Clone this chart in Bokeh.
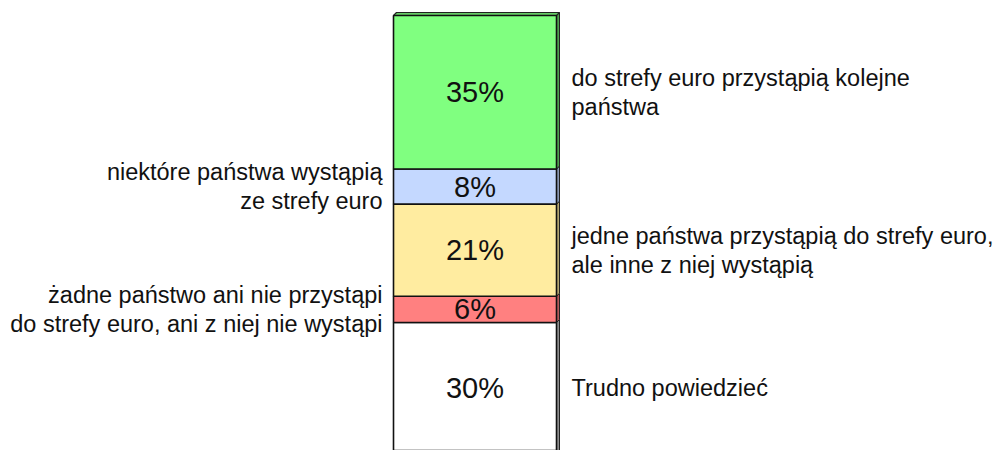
from bokeh.plotting import figure
from bokeh.models import Range1d, ColumnDataSource
from bokeh.core.properties import value
from bokeh.embed import file_html
from bokeh.resources import INLINE

# ---- data (bottom to top) ----
categories = [
    "Trudno powiedzieć",
    "żadne państwo ani nie przystąpi\ndo strefy euro, ani z niej nie wystąpi",
    "jedne państwa przystąpią do strefy euro,\nale inne z niej wystąpią",
    "niektóre państwa wystąpią\nze strefy euro",
    "do strefy euro przystąpią kolejne\npaństwa",
]
values = [30, 6, 21, 8, 35]
pct_labels = ["30%", "6%", "21%", "8%", "35%"]
label_side = ["right", "left", "right", "left", "right"]
colors = ["#FFFFFF", "#FF8080", "#FFECA0", "#C4D8FF", "#80FF80"]
side_colors = ["#8C8C8C", "#B25A5A", "#B3A570", "#8997B3", "#4F9F4F"]

# ---- layout constants ----
PX_X = 163.0    # pixels per bar-width unit
PX_Y = 4.386    # pixels per percent
DX = 3.0 / PX_X
DY = 3.0 / PX_Y

bottoms, tops = [], []
acc = 0
for v in values:
    bottoms.append(acc)
    acc += v
    tops.append(acc)
mids = [(b + t) / 2 for b, t in zip(bottoms, tops)]

p = figure(width=994, height=450, output_backend="svg", toolbar_location=None,
           x_axis_type=None, y_axis_type=None, min_border=0,
           x_range=Range1d(-2.911, 3.187), y_range=Range1d(0.82, 103.42))
p.grid.visible = False
p.outline_line_color = None
p.background_fill_color = "white"
p.border_fill_color = "white"

# side faces (3D depth)
xs_side = [[0.5, 0.5 + DX, 0.5 + DX, 0.5] for _ in values]
ys_side = [[b, b + DY, t + DY, t] for b, t in zip(bottoms, tops)]
p.patches(xs_side, ys_side, fill_color=side_colors, line_color="#222222", line_width=1)

# top face
total = tops[-1]
p.patch([-0.5, -0.5 + DX, 0.5 + DX, 0.5], [total, total + DY, total + DY, total],
        fill_color="#66CC66", line_color="#222222", line_width=1.2)

# front faces
src = ColumnDataSource(dict(x=[0] * len(values), bottom=bottoms, top=tops,
                            color=colors, mid=mids, pct=pct_labels))
p.vbar(x="x", width=1, bottom="bottom", top="top", fill_color="color",
       line_color="#111111", line_width=1.6, source=src)

# percent labels
p.text(x="x", y="mid", text="pct", source=src, text_align="center",
       text_baseline="middle", text_font=value("Liberation Sans"),
       text_font_size="29px", text_color="#111111")

# category labels
for cat, side, m in zip(categories, label_side, mids):
    if side == "right":
        p.text(x=[0.5], y=[m], text=[cat], x_offset=15, text_align="left",
               text_baseline="middle", text_font=value("Liberation Sans"),
               text_font_size="23.5px", text_line_height=1.12, text_color="#111111")
    else:
        p.text(x=[-0.5], y=[m], text=[cat], x_offset=-11, text_align="right",
               text_baseline="middle", text_font=value("Liberation Sans"),
               text_font_size="23.5px", text_line_height=1.12, text_color="#111111")

open("out.html", "w").write(file_html(p, INLINE))
